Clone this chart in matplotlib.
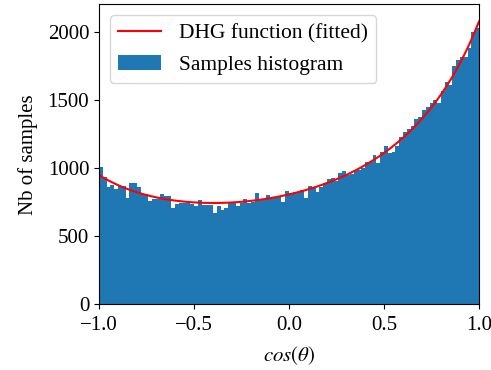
import numpy as np
import matplotlib.pyplot as plt

# Times-like font as in the reference
plt.rcParams['font.family'] = ['Liberation Serif', 'DejaVu Serif']
plt.rcParams['mathtext.fontset'] = 'stix'
plt.rcParams['font.size'] = 15

# histogram of cos(theta): 100 bins on [-1, 1], counts
bin_lo = -1.0
bin_width = 0.02
counts = [
    1003, 930, 861, 873, 842, 870, 870, 776, 890, 890,
    860, 810, 807, 756, 771, 771, 807, 790, 793, 705,
    734, 745, 740, 745, 735, 722, 763, 727, 727, 727,
    670, 719, 690, 705, 749, 749, 719, 739, 771, 744,
    751, 812, 768, 768, 802, 783, 783, 788, 751, 830,
    817, 822, 822, 837, 775, 866, 856, 825, 856, 886,
    915, 925, 905, 964, 979, 947, 954, 979, 984, 998,
    1040, 1042, 1094, 1033, 1115, 1160, 1110, 1120, 1158, 1225,
    1262, 1288, 1305, 1360, 1375, 1424, 1444, 1473, 1500, 1476,
    1562, 1628, 1606, 1747, 1793, 1813, 1811, 1877, 1999, 2027,
]
x_ticks = [-1.0, -0.5, 0.0, 0.5, 1.0]
y_ticks = [0, 500, 1000, 1500, 2000]

counts = np.array(counts, dtype=float)
edges = bin_lo + bin_width * np.arange(len(counts) + 1)
centers = 0.5 * (edges[:-1] + edges[1:])
n_total = counts.sum()


def hg(mu, g):
    # Henyey-Greenstein phase function, normalised over mu in [-1, 1]
    return (1 - g**2) / (2 * (1 + g**2 - 2 * g * mu) ** 1.5)


def dhg(mu, w, g1, g2):
    # double Henyey-Greenstein: forward + backward lobe
    return w * hg(mu, g1) + (1 - w) * hg(mu, g2)


# crude grid-search fit of the DHG to the histogram
best = None
for w in np.linspace(0.02, 0.98, 49):
    for g1 in np.linspace(0.0, 0.9, 46):
        g2 = np.linspace(-0.9, 0.0, 46)[:, None]
        model = n_total * bin_width * dhg(centers[None, :], w, g1, g2)
        err = ((model - counts[None, :]) ** 2).sum(axis=1)
        k = np.argmin(err)
        if best is None or err[k] < best[0]:
            best = (err[k], w, g1, g2[k, 0])
_, w_fit, g1_fit, g2_fit = best

mu = np.linspace(-1, 1, 400)
curve = n_total * bin_width * dhg(mu, w_fit, g1_fit, g2_fit)

fig = plt.figure(figsize=(4.91, 3.70), dpi=100)
ax = fig.add_axes([0.2016, 0.1784, 0.7740, 0.8095])

bars = ax.bar(edges[:-1], counts, width=bin_width, align='edge',
              color='#1f77b4', label='Samples histogram')
line, = ax.plot(mu, curve, color='red', lw=1.5, label='DHG function (fitted)')

ax.set_xlim(-1, 1)
ax.set_ylim(0, 2200)
ax.set_xticks(x_ticks)
ax.set_yticks(y_ticks)
ax.tick_params(axis='x', pad=5)
ax.set_xlabel(r'$cos(\theta)$', labelpad=7)
ax.set_ylabel('Nb of samples', labelpad=7)
ax.legend(handles=[line, bars], loc='upper left', fontsize=15.5)

fig.savefig('out.png', dpi=100)
